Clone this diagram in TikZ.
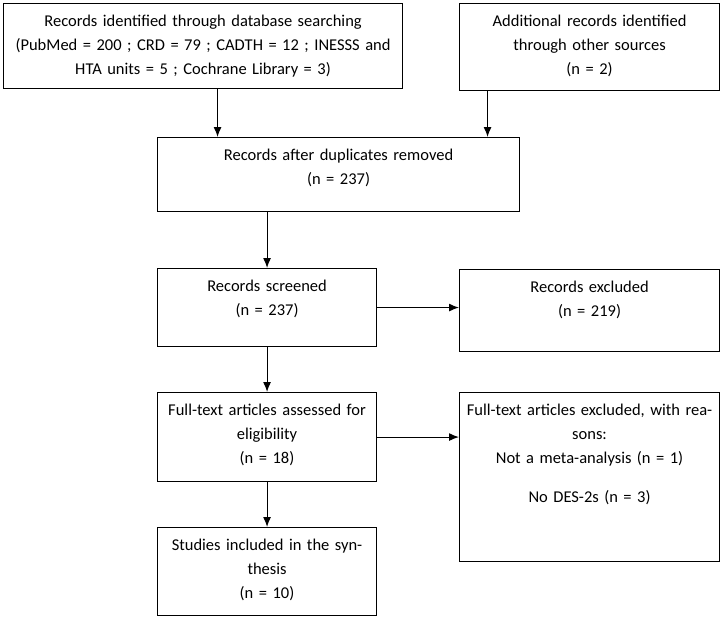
\documentclass[tikz,border=0pt]{standalone}
\usepackage{fontspec}
\setmainfont{Carlito}
\usepackage{tikz}
\usetikzlibrary{arrows.meta}

\tikzset{
  box/.style={draw, line width=1.1pt, anchor=north west, align=center,
    inner xsep=4pt, inner ysep=0pt, text height=23pt,
    font=\fontsize{16.5}{24}\selectfont},
  arr/.style={-{Latex[length=10pt,width=8pt]}, line width=1.1pt},
}

\begin{document}
\begin{tikzpicture}[x=1pt,y=-1pt]
    \useasboundingbox (0,0) rectangle (722,618);
    % top row
    \node[box, text width=391pt, text depth=62pt] (dbase) at (3,3)
      {Records identified through database searching\\
       (PubMed = 200 ; CRD = 79 ; CADTH = 12 ; INESSS and\\
       HTA units = 5 ; Cochrane Library = 3)};
    \node[box, text width=252pt, text depth=64pt] (other) at (459,3)
      {Additional records identified\\through other sources\\(n = 2)};
    % left column
    \node[box, text width=354pt, text depth=51pt] (dedup) at (157,137)
      {Records after duplicates removed\\(n = 237)};
    \node[box, text width=211pt, text depth=55pt] (screen) at (157,268)
      {Records screened\\(n = 237)};
    \node[box, text width=211pt, text depth=66pt] (full) at (157,392)
      {Full-text articles assessed for\\eligibility\\(n = 18)};
    \node[box, text width=211pt, text depth=65pt] (incl) at (157,527)
      {Studies included in the syn-\\thesis\\(n = 10)};
    % right column
    \node[box, text width=252pt, text depth=59pt] (excl) at (459,269)
      {Records excluded\\(n = 219)};
    \node[box, text width=252pt, text depth=146pt] (fexcl) at (459,392)
      {Full-text articles excluded, with rea-\\sons:\\Not a meta-analysis (n = 1)\\[15pt]No DES-2s (n = 3)};

    \coordinate (s1) at ([xshift=14.5pt]dbase.south);
    \coordinate (s2) at ([xshift=-102pt]other.south);
    \draw[arr] (s1) -- (s1 |- dedup.north);
    \draw[arr] (s2) -- (s2 |- dedup.north);
    \draw[arr] (screen.north |- dedup.south) -- (screen.north);
    \draw[arr] (screen.east) -- (screen.east -| excl.west);
    \draw[arr] (screen.south) -- (full.north);
    \draw[arr] (full.east) -- (full.east -| fexcl.west);
    \draw[arr] (full.south) -- (incl.north);
  \end{tikzpicture}
\end{document}
